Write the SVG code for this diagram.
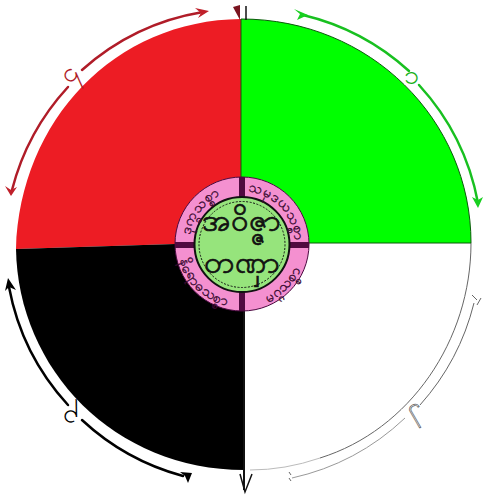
<svg xmlns="http://www.w3.org/2000/svg" width="484" height="497" viewBox="0 0 484 497">
<style>
.arc{fill:none;stroke-width:2.5;stroke-linecap:round}
.num{font-family:"Noto Sans","DejaVu Sans",sans-serif;font-size:27px;text-anchor:middle}
.ring{font-family:"Noto Sans","DejaVu Sans",sans-serif;font-size:14px;fill:#3a0a30;stroke:#3a0a30;stroke-width:.35;text-anchor:middle}
.title{font-family:"Noto Sans","DejaVu Sans",sans-serif;font-size:31px;fill:#111;stroke:#111;stroke-width:.7;text-anchor:middle}
</style>
<defs>
<path id="tl" d="M189 244A53 53 0 0 1 242 191"/>
<path id="tr" d="M242 191A53 53 0 0 1 295 244"/>
<path id="bl" d="M178 244A64 64 0 0 0 242 308"/>
<path id="br" d="M242 308A64 64 0 0 0 306 244"/>
</defs>
<rect width="484" height="497" fill="#fff"/>
<g id="quadrant-white"><path d="M471 243C471 372 368 470 246 470V243Z" fill="#fff"/><path d="M471 243C471 340 410 430 320 458" fill="none" stroke="#666" stroke-width="1"/><path d="M320 458Q285 470 250 470" fill="none" stroke="#bbb" stroke-width="1"/></g>
<g id="quadrant-red"><path d="M241 19C115 20 20 120 16 249L175 244H241Z" fill="#ed1c24"/></g>
<g id="quadrant-green"><path d="M241 19C370 19 471 120 471 243H241Z" fill="#00ff00" stroke="#0a5a0a" stroke-width="1"/></g>
<g id="quadrant-black"><path d="M16 249C18 370 115 470 244 470L243 244H175Z" fill="#000"/></g>
<g id="connectors">
<path class="arc" stroke="#b01c28" d="M68 87A240 240 0 0 0 12 190"/>
<path class="arc" stroke="#b01c28" d="M82 70A240 240 0 0 1 203 12"/>
<path d="M209 11L195 8L201 13L198 18ZM11 196L5 186L11 190L17 187Z" fill="#c0202a"/>
<path class="arc" stroke="#18c020" d="M303 15A240 240 0 0 1 409 71"/>
<path class="arc" stroke="#18c020" d="M419 85A240 240 0 0 1 478 203"/>
<path d="M308 15L294 9L300 14L297 20ZM478 208L472 197L478 200L483 197Z" fill="#18d020"/>
<path fill="none" stroke="#666" stroke-width="1" d="M474 303A240 240 0 0 1 420 405"/>
<path fill="none" stroke="#999" stroke-width="1" d="M405 418A240 240 0 0 1 292 478"/>
<path d="M472 295L477 300M481 298L477 305M289 472L291 475M289 478L291 481" fill="none" stroke="#666" stroke-width="1"/>
<path class="arc" stroke="#000" d="M68 405A240 240 0 0 1 9 287"/>
<path class="arc" stroke="#000" d="M82 420A240 240 0 0 0 183 476"/>
<path d="M8 278L5 291L9 287L16 290ZM192 473L180 472L185 476L188 483Z" fill="#000"/>
<path d="M244 310V490" stroke="#111" stroke-width="2"/>
<path d="M240 474L245 492L252 474" fill="none" stroke="#111" stroke-width="1.5"/>
<path d="M233 7L240 20V5Z" fill="#7a1420"/>
<path d="M246 6V20" stroke="#111" stroke-width="1.5"/>
</g>
<g id="labels">
<text class="num" fill="#b01c28" x="69" y="82" transform="rotate(-55 69 74)">၄</text>
<text class="num" fill="#18b020" x="412" y="84">၁</text>
<text class="num" fill="#fff" stroke="#555" stroke-width=".7" x="422" y="430" transform="rotate(150 422 422)">၂</text>
<text class="num" fill="#000" x="69" y="426" transform="rotate(210 69 418)">၃</text>
</g>
<g id="hub">
<circle cx="242" cy="244" r="67" fill="#f490d0" stroke="#4a0a40" stroke-width="1"/>
<path d="M242 177V311M175 245H309" stroke="#500a40" stroke-width="6"/>
<circle cx="242" cy="244.500" r="47.500" fill="#96e47c" stroke="#111" stroke-width="2"/>
<circle cx="242" cy="244.500" r="43" fill="none" stroke="#111" stroke-width="1" stroke-dasharray="2 1.500"/>
<text class="ring"><textPath href="#tl" startOffset="42%">ဒုက္ခသစ္စာ</textPath></text>
<text class="ring"><textPath href="#tr" startOffset="52%">သမုဒယသစ္စာ</textPath></text>
<text class="ring"><textPath href="#bl" startOffset="50%">နိရောဓသစ္စာ</textPath></text>
<text class="ring"><textPath href="#br" startOffset="50%">မဂ္ဂသစ္စာ</textPath></text>
<text class="title" x="241" y="231">အဝိဇ္ဇာ</text>
<text class="title" x="242" y="273">တဏှာ</text>
</g>
</svg>
